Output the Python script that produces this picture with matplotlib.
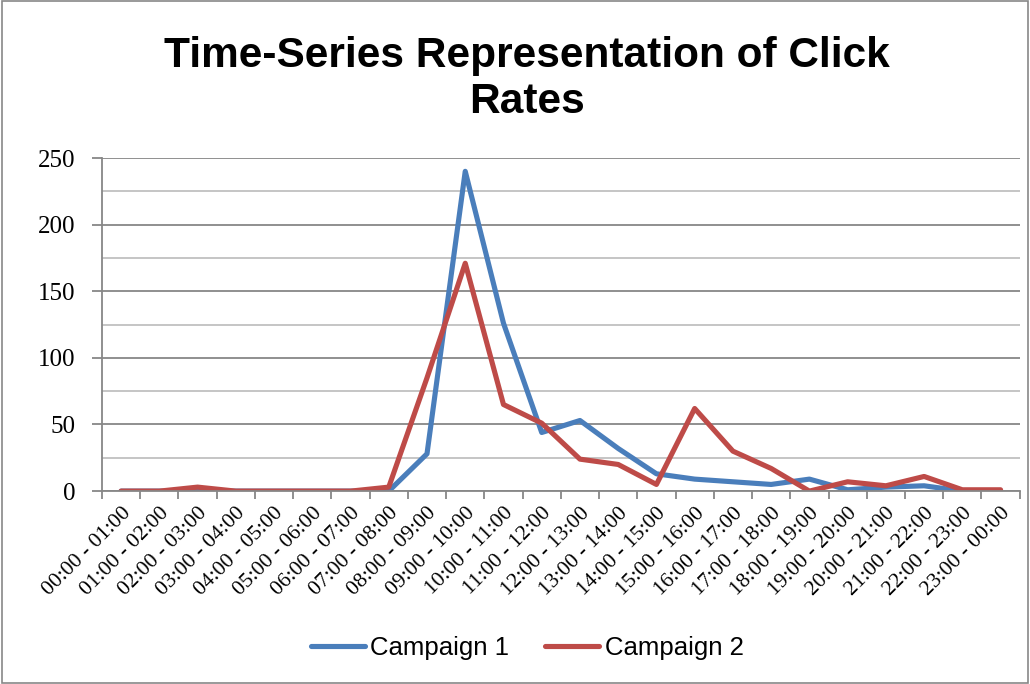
import matplotlib.pyplot as plt
import numpy as np
from matplotlib.patches import Rectangle

# hourly click counts for the two campaigns
hours = ["00:00 - 01:00", "01:00 - 02:00", "02:00 - 03:00", "03:00 - 04:00",
         "04:00 - 05:00", "05:00 - 06:00", "06:00 - 07:00", "07:00 - 08:00",
         "08:00 - 09:00", "09:00 - 10:00", "10:00 - 11:00", "11:00 - 12:00",
         "12:00 - 13:00", "13:00 - 14:00", "14:00 - 15:00", "15:00 - 16:00",
         "16:00 - 17:00", "17:00 - 18:00", "18:00 - 19:00", "19:00 - 20:00",
         "20:00 - 21:00", "21:00 - 22:00", "22:00 - 23:00", "23:00 - 00:00"]
campaign1 = [0, 0, 0, 0, 0, 0, 0, 0, 28, 240, 126, 44, 53, 32, 13, 9,
             7, 5, 9, 1, 3, 4, 0, 0]
campaign2 = [0, 0, 3, 0, 0, 0, 0, 3, 85, 171, 65, 51, 24, 20, 5, 62,
             30, 17, 0, 7, 4, 11, 1, 1]

fig = plt.figure(figsize=(10.3, 6.84), dpi=100)
ax = fig.add_axes([0.099, 0.282, 0.891, 0.487])

x = np.arange(len(hours))
ax.plot(x, campaign1, color="#4a7ebb", lw=3.7, label="Campaign 1", solid_joinstyle="round", solid_capstyle="round")
ax.plot(x, campaign2, color="#be4b48", lw=3.7, label="Campaign 2", solid_joinstyle="round", solid_capstyle="round")

ax.set_xlim(-0.5, len(hours) - 0.5)
ax.set_ylim(0, 250)
ax.set_yticks(np.arange(0, 251, 50))
ax.set_yticks(np.arange(25, 250, 50), minor=True)
ax.grid(axis="y", which="major", color="#878787", lw=1.3)
ax.grid(axis="y", which="minor", color="#c0c0c0", lw=1.3)
ax.set_axisbelow(True)

# category ticks sit on the boundaries, labels at the centres
ax.set_xticks(np.arange(-0.5, len(hours), 1.0))
ax.set_xticklabels([])
ax.set_xticks(x, minor=True)
ax.set_xticklabels(hours, minor=True, rotation=45, ha="right", rotation_mode="anchor",
                   family="Liberation Serif", fontsize=15.5)
ax.tick_params(axis="x", which="major", length=6, width=1.3, color="#878787", direction="out")
ax.tick_params(axis="x", which="minor", length=0, pad=9)
ax.tick_params(axis="y", which="major", length=7, width=1.3, color="#878787", pad=12)
ax.tick_params(axis="y", which="minor", length=0)
for lab in ax.get_yticklabels():
    lab.set_family("Liberation Serif")
    lab.set_fontsize(18)

for side in ["top", "right"]:
    ax.spines[side].set_visible(False)
for side in ["left", "bottom"]:
    ax.spines[side].set_color("#878787")
    ax.spines[side].set_linewidth(1.3)

fig.text(0.512, 0.947, "Time-Series Representation of Click\nRates", ha="center", va="top",
         family="Liberation Sans", fontweight="bold", fontsize=30.5, linespacing=1.17)

fig.legend(loc="center", bbox_to_anchor=(0.512, 0.052), ncol=2, frameon=False,
           prop={"family": "Liberation Sans", "size": 18.5}, handlelength=2.1,
           handletextpad=0.2, columnspacing=1.4)

# outer chart border
fig.patches.append(Rectangle((0.002, 0.002), 0.996, 0.996, transform=fig.transFigure,
                             fill=False, edgecolor="#878787", lw=1.2))

fig.savefig("out.png", dpi=100)
